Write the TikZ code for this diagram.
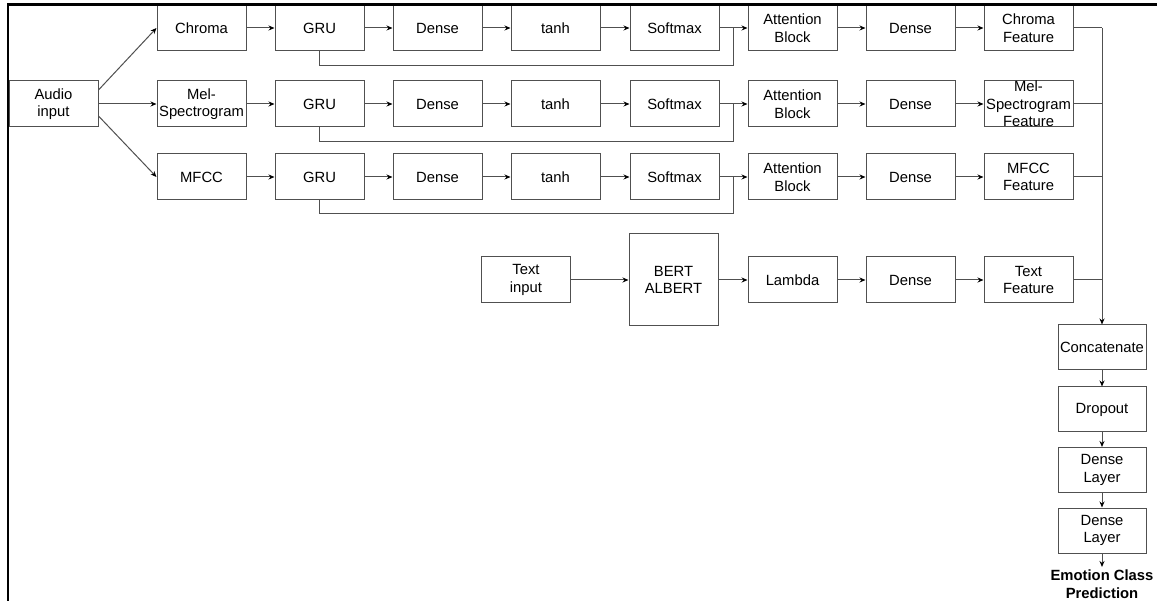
\documentclass[tikz,border=0pt]{standalone}
\usepackage{fontspec}
\setmainfont{Liberation Sans}
\usetikzlibrary{arrows.meta}
\definecolor{ln}{HTML}{505050}
\begin{document}
\begin{tikzpicture}[x=1pt,y=-1pt,
  box/.style={draw=ln, line width=1pt, minimum width=89pt, minimum height=46pt, inner sep=0pt, align=center, font=\fontsize{14.8}{17.5}\selectfont},
  arr/.style={draw=ln, line width=1pt, -{Stealth[length=6pt,width=5pt,color=black]}},
  wire/.style={draw=ln, line width=1pt},
  frame/.style={draw=black, line width=2.5pt}]
\useasboundingbox (0,0) rectangle (1157,601);
\fill[white] (0,0) rectangle (1157,601);

% audio input
\node[box] (audio) at (53.5,104) {Audio\\input};

% row 1
\node[box] (c1) at (201.5,28) {Chroma};
\node[box] (g1) at (319.5,28) {GRU};
\node[box] (d1) at (437.5,28) {Dense};
\node[box] (t1) at (555.5,28) {tanh};
\node[box] (s1) at (674.5,28) {Softmax};
\node[box] (at1) at (792.5,28) {Attention\\Block};
\node[box] (e1) at (910.5,28) {Dense};
\node[box] (f1) at (1028.5,28) {Chroma\\Feature};

% row 2
\node[box] (c2) at (201.5,104) {Mel-\\Spectrogram};
\node[box] (g2) at (319.5,104) {GRU};
\node[box] (d2) at (437.5,104) {Dense};
\node[box] (t2) at (555.5,104) {tanh};
\node[box] (s2) at (674.5,104) {Softmax};
\node[box] (at2) at (792.5,104) {Attention\\Block};
\node[box] (e2) at (910.5,104) {Dense};
\node[box] (f2) at (1028.5,104) {Mel-\\Spectrogram\\Feature};

% row 3
\node[box] (c3) at (201.5,177) {MFCC};
\node[box] (g3) at (319.5,177) {GRU};
\node[box] (d3) at (437.5,177) {Dense};
\node[box] (t3) at (555.5,177) {tanh};
\node[box] (s3) at (674.5,177) {Softmax};
\node[box] (at3) at (792.5,177) {Attention\\Block};
\node[box] (e3) at (910.5,177) {Dense};
\node[box] (f3) at (1028.5,177) {MFCC\\Feature};

% text row
\node[box] (ti) at (526,280) {Text\\input};
\node[box, minimum height=92pt] (bert) at (673.5,280) {BERT\\ALBERT};
\node[box] (lam) at (792.5,280) {Lambda};
\node[box] (e4) at (910.5,280) {Dense};
\node[box] (f4) at (1028.5,280) {Text\\Feature};

% fusion column
\node[box, minimum width=88pt, minimum height=45pt] (cat) at (1102,347.5) {Concatenate};
\node[box, minimum width=88pt, minimum height=45pt] (drop) at (1102,409.5) {Dropout};
\node[box, minimum width=88pt, minimum height=45pt] (dl1) at (1102,470) {Dense\\Layer};
\node[box, minimum width=88pt, minimum height=45pt] (dl2) at (1102,530.5) {Dense\\Layer};
\node[font=\fontsize{14.8}{17.5}\selectfont\bfseries, align=center, inner sep=0pt] (out) at (1102,584) {Emotion Class\\Prediction};
\coordinate (outin) at (1102,567);

% audio fan-out
\draw[arr] ([yshift=14pt]audio.east) -- (c1.west);
\draw[arr] (audio.east) -- (c2.west);
\draw[arr] ([yshift=-12pt]audio.east) -- (c3.west);

% chains
\foreach \r in {1,2,3}{
  \draw[arr] (c\r) -- (g\r);
  \draw[arr] (g\r) -- (d\r);
  \draw[arr] (d\r) -- (t\r);
  \draw[arr] (t\r) -- (s\r);
  \draw[arr] (s\r) -- (at\r);
  \draw[arr] (at\r) -- (e\r);
  \draw[arr] (e\r) -- (f\r);
}

% skip connections
\coordinate (j1) at (733,28);  \coordinate (k1) at (733,66);
\coordinate (j2) at (733,104); \coordinate (k2) at (733,142);
\coordinate (j3) at (733,177); \coordinate (k3) at (733,214);
\draw[wire] (g1.south) |- (k1) -- (j1);
\draw[wire] (g2.south) |- (k2) -- (j2);
\draw[wire] (g3.south) |- (k3) -- (j3);

% text chain
\draw[arr] (ti) -- (bert);
\draw[arr] (bert) -- (lam);
\draw[arr] (lam) -- (e4);
\draw[arr] (e4) -- (f4);

% bus
\coordinate (b1) at (1102,28);
\coordinate (b2) at (1102,104);
\coordinate (b3) at (1102,177);
\coordinate (b4) at (1102,280);
\draw[wire] (f1.east) -- (b1);
\draw[wire] (f2.east) -- (b2);
\draw[wire] (f3.east) -- (b3);
\draw[wire] (f4.east) -- (b4);
\draw[arr] (b1) -- (cat.north);

% fusion arrows
\draw[arr] (cat) -- (drop);
\draw[arr] (drop) -- (dl1);
\draw[arr] (dl1) -- (dl2);
\draw[arr] (dl2.south) -- (outin);

% frame
\coordinate (fa) at (8,601);
\coordinate (fb) at (8,4.5);
\coordinate (fc) at (1157,4.5);
\draw[frame] (fa) -- (fb) -- (fc);
\end{tikzpicture}
\end{document}
